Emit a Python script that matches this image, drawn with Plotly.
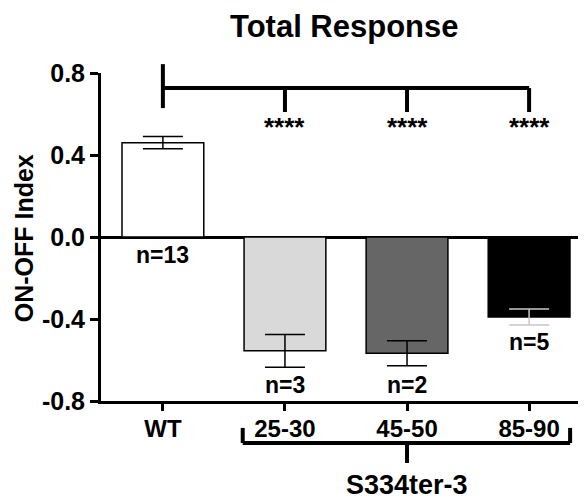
import plotly.graph_objects as go

categories = ["WT", "25-30", "45-50", "85-90"]
means = [0.46, -0.555, -0.567, -0.39]
sems = [0.03, 0.08, 0.061, 0.039]
n_labels = ["n=13", "n=3", "n=2", "n=5"]
n_label_y = [-0.088, -0.722, -0.722, -0.512]
sig_labels = ["", "****", "****", "****"]
sig_y = 0.537
y_ticks = [0.8, 0.4, 0.0, -0.4, -0.8]
y_tick_text = ["0.8", "0.4", "0.0", "-0.4", "-0.8"]
group_label = "S334ter-3"

fills = ["white", "#d9d9d9", "#666666", "black"]
err_colors = ["black", "black", "black", "#c8c8c8"]

FONT = "Liberation Sans, Arial, sans-serif"
xs = list(range(len(categories)))

fig = go.Figure()
for i, c in enumerate(categories):
    fig.add_trace(go.Bar(
        x=[xs[i]], y=[means[i]], width=0.67,
        marker=dict(color=fills[i], line=dict(color="black", width=1.5)),
        error_y=dict(type="data", array=[sems[i]], visible=True,
                     color=err_colors[i], thickness=1.5, width=20),
        showlegend=False, hoverinfo="skip",
    ))

ann = []
for i in range(len(categories)):
    ann.append(dict(x=xs[i], y=n_label_y[i], xref="x", yref="y", text=n_labels[i],
                    xanchor="center", yanchor="middle",
                    showarrow=False, font=dict(family=FONT, size=23, color="black", weight="bold")))
    if sig_labels[i]:
        ann.append(dict(x=xs[i], y=sig_y, xref="x", yref="y", text=sig_labels[i],
                        xanchor="center", yanchor="middle",
                        showarrow=False, font=dict(family=FONT, size=26, color="black", weight="bold")))

ann.append(dict(x=2.0, y=-0.256, xref="x", yref="paper", text=group_label, showarrow=False,
                xanchor="center", yanchor="middle",
                font=dict(family=FONT, size=27, color="black", weight="bold")))
ann.append(dict(x=0.508, y=1.1418, xref="paper", yref="paper", text="Total Response", showarrow=False,
                xanchor="center", yanchor="middle",
                font=dict(family=FONT, size=31, color="black", weight="bold")))
ann.append(dict(x=-0.1615, y=0.495, xref="paper", yref="paper", text="ON-OFF Index", showarrow=False,
                xanchor="center", yanchor="middle",
                textangle=-90, font=dict(family=FONT, size=25, color="black", weight="bold")))

LW = 4
shapes = [
    dict(type="line", xref="x", yref="paper", x0=xs[0], x1=xs[3], y0=0.954, y1=0.954,
         line=dict(color="black", width=LW)),
    dict(type="line", xref="x", yref="paper", x0=xs[0], x1=xs[0], y0=1.027, y1=0.893,
         line=dict(color="black", width=LW)),
]
for i in [1, 2, 3]:
    shapes.append(dict(type="line", xref="x", yref="paper", x0=xs[i], x1=xs[i], y0=0.954, y1=0.881,
                       line=dict(color="black", width=LW)))
shapes += [
    dict(type="line", xref="x", yref="paper", x0=0.654, x1=3.336, y0=-0.128, y1=-0.128,
         line=dict(color="black", width=LW)),
    dict(type="line", xref="x", yref="paper", x0=0.654, x1=0.654, y0=-0.128, y1=-0.082,
         line=dict(color="black", width=LW)),
    dict(type="line", xref="x", yref="paper", x0=3.336, x1=3.336, y0=-0.128, y1=-0.082,
         line=dict(color="black", width=LW)),
    dict(type="line", xref="x", yref="paper", x0=2.0, x1=2.0, y0=-0.128, y1=-0.189,
         line=dict(color="black", width=LW)),
]

fig.update_layout(
    width=586, height=500,
    margin=dict(l=93, r=14, t=65, b=107),
    paper_bgcolor="white", plot_bgcolor="white",
    barmode="overlay",
    annotations=ann, shapes=shapes,
    xaxis=dict(range=[-0.507, 3.417], tickmode="array", tickvals=xs, ticktext=categories,
               showline=True, linecolor="black", linewidth=3, ticks="outside", ticklen=7,
               tickwidth=3, tickcolor="black", showgrid=False, zeroline=False,
               ticklabelstandoff=-3,
               tickfont=dict(family=FONT, size=24, color="black", weight="bold")),
    yaxis=dict(range=[-0.8, 0.8], tickmode="array", tickvals=y_ticks, ticktext=y_tick_text,
               showline=True, linecolor="black", linewidth=3, ticks="outside", ticklen=8,
               tickwidth=3, tickcolor="black", showgrid=False,
               zeroline=True, zerolinecolor="black", zerolinewidth=2.5,
               tickfont=dict(family=FONT, size=25, color="black", weight="bold")),
)

fig.write_html("out.html")
